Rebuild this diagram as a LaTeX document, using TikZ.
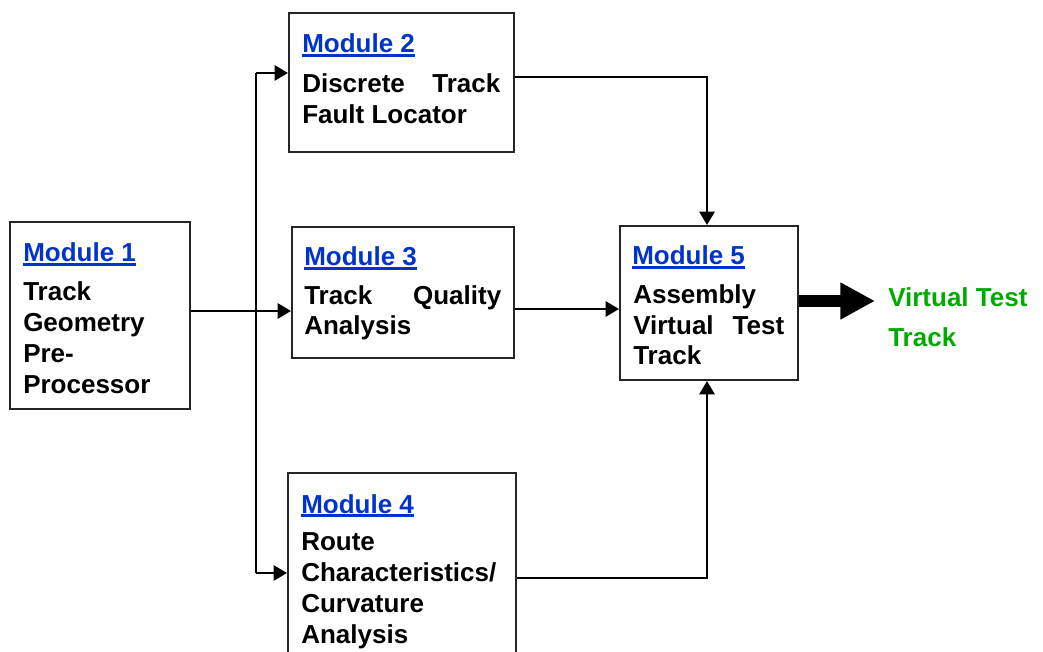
\documentclass[tikz,border=0pt]{standalone}
\usepackage{fontspec}
\setmainfont{Liberation Sans}
\usetikzlibrary{arrows.meta,fit}
\definecolor{modblue}{RGB}{0,51,204}
\definecolor{vgreen}{RGB}{0,170,0}
\newdimen\px \px=0.75pt
\begin{document}
\begin{tikzpicture}[x=0.75pt,y=-0.75pt,
  box/.style={draw=black!85, line width=1.6pt, inner sep=0pt},
  title/.style={anchor=base west, inner sep=0pt, text=modblue, font=\fontsize{19.5}{23.25}\selectfont\bfseries},
  body/.style={anchor=base west, inner sep=0pt, align=left, font=\fontsize{19.5}{23.25}\selectfont\bfseries},
  conn/.style={line width=1.5pt, draw=black},
  arr/.style={conn, -{Triangle[length=10pt,width=11.5pt]}},
  ul/.style={draw=modblue, line width=2.2pt},
  big/.style={line width=9pt, -{Triangle[length=26pt,width=26pt]}},
  outtext/.style={anchor=base west, inner sep=0pt, align=left, text=vgreen, font=\fontsize{19.5}{30}\selectfont\bfseries}
]
\useasboundingbox (0,0) rectangle (1043,652);
% boxes
\node[box, fit={(10,222) (190,409)}] (m1) {};
\node[box, fit={(289,13) (514,152)}] (m2) {};
\node[box, fit={(292,227) (514,358)}] (m3) {};
\node[box, fit={(288,473) (516,680)}] (m4) {};
\node[box, fit={(620,226) (798,380)}] (m5) {};
% titles
\node[title] (t1) at (23,262) {Module 1};
\node[title] (t2) at (302,53) {Module 2};
\node[title] (t3) at (304,266) {Module 3};
\node[title] (t4) at (301,513) {Module 4};
\node[title] (t5) at (632,265) {Module 5};
\foreach \t in {t1,t2,t3,t4,t5}{
  \draw[ul] ([yshift=-1.7pt]\t.base west) -- ([yshift=-1.7pt]\t.base east);
}
% bodies (anchored at the baseline of their last line)
\node[body] (b1) at (23,393) {Track\\Geometry\\Pre-\\Processor};
\node[body] (b2) at (302,124) {\hbox to 198\px{Discrete\hfill Track}\\Fault Locator};
\node[body] (b3) at (304,335) {\hbox to 197\px{Track\hfill Quality}\\Analysis};
\node[body] (b4) at (301,643) {Route\\Characteristics/\\Curvature\\Analysis};
\node[body] (b5) at (633,365) {Assembly\\\hbox to 151\px{Virtual\hfill Test}\\Track};
% junctions
\coordinate (j1) at (256,311);
\coordinate (ja) at (256,73);
\coordinate (jb) at (256,573);
\coordinate (c2) at (707,77);
\coordinate (c3) at (600,309);
\coordinate (c4) at (707,578);
\coordinate (vt) at (875,301);
% connectors
\draw[arr] (m1.east |- j1) -- (m3.west |- j1);
\draw[conn] (ja) -- (jb);
\draw[arr] (ja) -- (m2.west |- ja);
\draw[arr] (jb) -- (m4.west |- jb);
\draw[arr] (m2.east |- c2) -- (c2) -- (c2 |- m5.north);
\draw[arr] (m3.east |- c3) -- (m5.west |- c3);
\draw[arr] (m4.east |- c4) -- (c4) -- (c4 |- m5.south);
\draw[big] (m5.east |- vt) -- (vt);
\node[outtext] (out) at (888,347) {Virtual Test\\Track};
\end{tikzpicture}
\end{document}
